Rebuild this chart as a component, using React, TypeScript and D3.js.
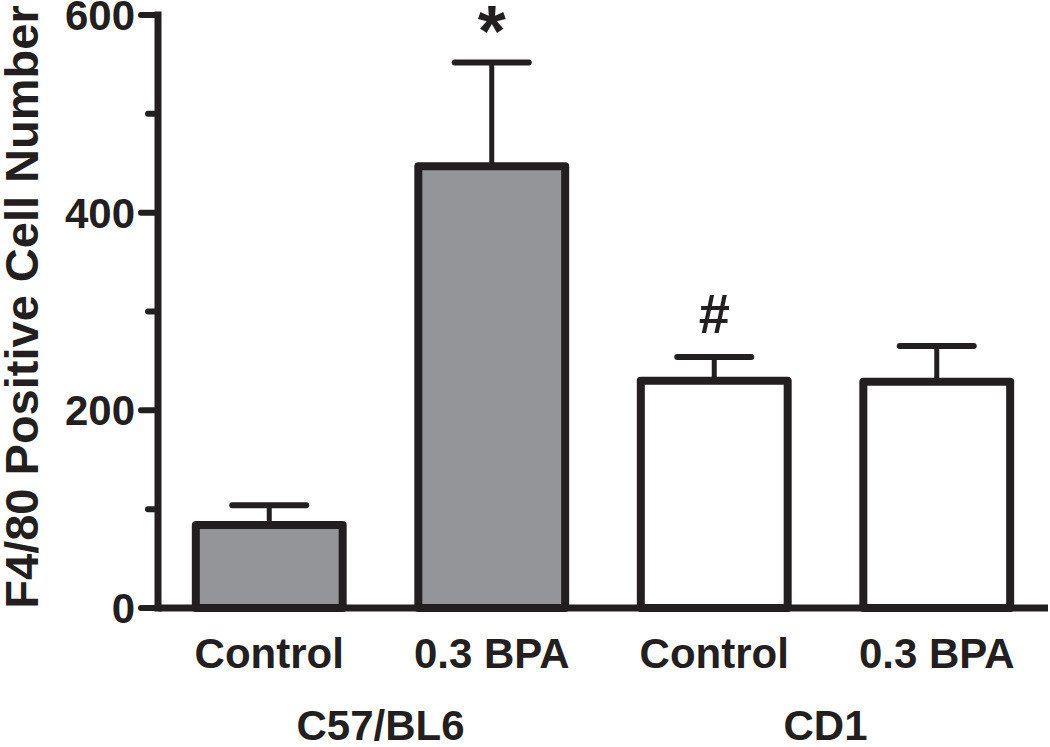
import * as d3 from "d3"
import { useEffect, useRef } from "react"

const groups = ["Control", "0.3 BPA", "Control", "0.3 BPA"]
const strains = ["C57/BL6", "CD1"]
const means = [84, 447, 230, 229]
const errors = [20, 105, 24, 36]
const fills = ["#939598", "#939598", "#ffffff", "#ffffff"]
const marks = ["", "*", "#", ""]
const yTicks = [0, 200, 400, 600]
const yMinor = [100, 300, 500]

const W = 1050
const H = 747
const INK = "#231f20"
const FONT = "'Liberation Sans', Arial, Helvetica, sans-serif"

export default function App() {
  const svgRef = useRef<SVGSVGElement | null>(null)

  useEffect(() => {
    if (!svgRef.current) return
    const svg = d3.select(svgRef.current)
    svg.selectAll("*").remove()

    const ids = groups.map((_, i) => String(i))
    const x = d3.scaleBand().domain(ids).range([158, 1048]).paddingInner(0.34).paddingOuter(0.17)
    const y = d3.scaleLinear().domain([0, 600]).range([608, 15])

    const g = svg.append("g").style("font-family", FONT).attr("fill", INK)

    const data = means.map((m, i) => ({ id: ids[i], m, e: errors[i], fill: fills[i], mark: marks[i] }))

    // error bars (only the upper half shows above the bar)
    g.selectAll(".err")
      .data(data)
      .enter()
      .append("line")
      .attr("x1", (d) => x(d.id)! + x.bandwidth() / 2)
      .attr("x2", (d) => x(d.id)! + x.bandwidth() / 2)
      .attr("y1", (d) => y(d.m))
      .attr("y2", (d) => y(d.m + d.e))
      .attr("stroke", INK)
      .attr("stroke-width", 5)

    g.selectAll(".cap")
      .data(data)
      .enter()
      .append("line")
      .attr("x1", (d) => x(d.id)! + x.bandwidth() / 2 - 37)
      .attr("x2", (d) => x(d.id)! + x.bandwidth() / 2 + 37)
      .attr("y1", (d) => y(d.m + d.e))
      .attr("y2", (d) => y(d.m + d.e))
      .attr("stroke", INK)
      .attr("stroke-width", 6)
      .attr("stroke-linecap", "round")

    g.selectAll(".bar")
      .data(data)
      .enter()
      .append("rect")
      .attr("x", (d) => x(d.id)!)
      .attr("y", (d) => y(d.m))
      .attr("width", x.bandwidth())
      .attr("height", (d) => y(0) - y(d.m))
      .attr("fill", (d) => d.fill)
      .attr("stroke", INK)
      .attr("stroke-width", 8)
      .attr("stroke-linejoin", "round")

    // significance marks
    g.selectAll(".mark")
      .data(data.filter((d) => d.mark))
      .enter()
      .append("text")
      .attr("x", (d) => x(d.id)! + x.bandwidth() / 2)
      .attr("y", (d) => (d.mark === "*" ? y(d.m + d.e) - 6 : y(d.m + d.e) - 24))
      .attr("text-anchor", "middle")
      .style("font-size", (d) => (d.mark === "*" ? "72px" : "56px"))
      .style("font-weight", "bold")
      .text((d) => d.mark)

    // y axis
    g.append("line")
      .attr("x1", 158)
      .attr("x2", 158)
      .attr("y1", y(600))
      .attr("y2", y(0))
      .attr("stroke", INK)
      .attr("stroke-width", 7)
      .attr("stroke-linecap", "square")

    g.selectAll(".ytick")
      .data(yTicks)
      .enter()
      .append("line")
      .attr("x1", 141)
      .attr("x2", 158)
      .attr("y1", (d) => y(d))
      .attr("y2", (d) => y(d))
      .attr("stroke", INK)
      .attr("stroke-width", 6)
      .attr("stroke-linecap", "round")

    g.selectAll(".yminor")
      .data(yMinor)
      .enter()
      .append("line")
      .attr("x1", 148)
      .attr("x2", 158)
      .attr("y1", (d) => y(d))
      .attr("y2", (d) => y(d))
      .attr("stroke", INK)
      .attr("stroke-width", 6)
      .attr("stroke-linecap", "round")

    g.selectAll(".ylab")
      .data(yTicks)
      .enter()
      .append("text")
      .attr("x", 135)
      .attr("y", (d) => y(d))
      .attr("dy", "0.36em")
      .attr("text-anchor", "end")
      .style("font-size", "42px")
      .style("font-weight", "bold")
      .text((d) => d)

    g.append("text")
      .attr("transform", `translate(38,307) rotate(-90)`)
      .attr("text-anchor", "middle")
      .style("font-size", "47px")
      .style("font-weight", "bold")
      .text("F4/80 Positive Cell Number")

    // x axis
    g.append("line")
      .attr("x1", 158)
      .attr("x2", 1048)
      .attr("y1", y(0))
      .attr("y2", y(0))
      .attr("stroke", INK)
      .attr("stroke-width", 7)

    g.selectAll(".xlab")
      .data(data)
      .enter()
      .append("text")
      .attr("x", (d) => x(d.id)! + x.bandwidth() / 2)
      .attr("y", 668)
      .attr("text-anchor", "middle")
      .style("font-size", "42px")
      .style("font-weight", "bold")
      .text((_, i) => groups[i])

    g.selectAll(".strain")
      .data(strains)
      .enter()
      .append("text")
      .attr("x", (_, i) => (x(ids[i * 2])! + x(ids[i * 2 + 1])! + x.bandwidth()) / 2)
      .attr("y", 740)
      .attr("text-anchor", "middle")
      .style("font-size", "42px")
      .style("font-weight", "bold")
      .text((d) => d)
  }, [])

  return (
    <svg
      ref={svgRef}
      width={W}
      height={H}
      style={{ position: "absolute", left: 0, top: 0, background: "#fff" }}
    />
  )
}
